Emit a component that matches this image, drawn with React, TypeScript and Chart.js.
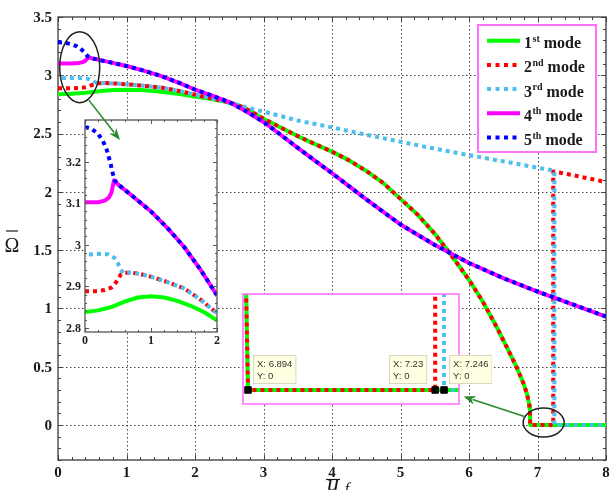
import React, { useEffect, useRef } from 'react';
import { Chart, registerables } from 'chart.js';

Chart.register(...registerables);

// ---------------- data ----------------
// mode 1, low branch (before veering)
const mode1LowX = [0, 0.2, 0.4, 0.6, 0.8, 1.0, 1.2, 1.4, 1.6, 1.8, 2.0, 2.2, 2.4];
const mode1LowY = [2.838, 2.842, 2.85, 2.863, 2.873, 2.876, 2.873, 2.865, 2.853, 2.838, 2.818, 2.8, 2.778];
// steep branch shared by modes 1 and 2
const steepX = [2.63, 2.8, 3.0, 3.25, 3.5, 3.75, 4.0, 4.25, 4.5, 4.75, 5.0, 5.25, 5.5, 5.75, 6.0, 6.2, 6.4, 6.55, 6.7, 6.8, 6.85, 6.88, 6.89, 6.894];
const steepY = [2.745, 2.695, 2.628, 2.552, 2.478, 2.41, 2.345, 2.27, 2.18, 2.075, 1.94, 1.805, 1.64, 1.45, 1.245, 1.06, 0.845, 0.67, 0.49, 0.35, 0.26, 0.17, 0.12, 0];
// mode 1 after divergence (zero)
const mode1ZeroX = [8];
const mode1ZeroY = [0];
// mode 2 start
const mode2StartX = [0, 0.15, 0.3, 0.4, 0.45, 0.5, 0.54];
const mode2StartY = [2.888, 2.888, 2.891, 2.897, 2.905, 2.917, 2.928];
// branch shared by modes 2 and 3
const veerX = [0.58, 0.7, 0.85, 1.0, 1.25, 1.5, 1.75, 2.0, 2.25, 2.45];
const veerY = [2.932, 2.933, 2.929, 2.923, 2.91, 2.895, 2.868, 2.835, 2.8, 2.775];
// mode 2 end (zero then jump)
const mode2EndX = [7.23, 7.23, 7.5, 7.75, 8];
const mode2EndY = [0, 2.175, 2.145, 2.115, 2.085];
// mode 3 start
const mode3StartX = [0, 0.2, 0.35, 0.45, 0.5, 0.54];
const mode3StartY = [2.976, 2.978, 2.977, 2.968, 2.955, 2.94];
// mode 3 end
const mode3EndX = [2.63, 2.8, 3.0, 3.5, 4.0, 4.5, 5.0, 5.5, 6.0, 6.5, 7.0, 7.246, 7.246, 8];
const mode3EndY = [2.745, 2.717, 2.688, 2.612, 2.553, 2.49, 2.43, 2.37, 2.315, 2.262, 2.207, 2.182, 0, 0];
// mode 4 start
const mode4StartX = [0, 0.2, 0.3, 0.36, 0.4, 0.42, 0.44];
const mode4StartY = [3.102, 3.102, 3.106, 3.113, 3.125, 3.14, 3.155];
// mode 5 start
const mode5StartX = [0, 0.1, 0.2, 0.27, 0.33, 0.38, 0.42];
const mode5StartY = [3.283, 3.279, 3.266, 3.25, 3.228, 3.2, 3.172];
// falling branch shared by modes 4 and 5
const fallX = [0.45, 0.5, 0.75, 1.0, 1.25, 1.5, 1.75, 2.0, 2.25, 2.5, 2.75, 3.0, 3.25, 3.5, 3.75, 4.0, 4.5, 5.0, 5.5, 6.0, 6.5, 7.0, 7.5, 8.0];
const fallY = [3.155, 3.145, 3.113, 3.08, 3.04, 2.995, 2.94, 2.878, 2.825, 2.77, 2.69, 2.6, 2.49, 2.378, 2.268, 2.16, 1.935, 1.72, 1.545, 1.39, 1.26, 1.145, 1.038, 0.93];

const xTickLabels = ['0', '1', '2', '3', '4', '5', '6', '7', '8'];
const yTickLabels = ['0', '0.5', '1', '1.5', '2', '2.5', '3', '3.5'];
const insetXTickLabels = ['0', '1', '2'];
const insetYTickLabels = ['2.8', '2.9', '3', '3.1', '3.2'];
const legendNumbers = ['1', '2', '3', '4', '5'];
const legendSuffixes = ['st', 'nd', 'rd', 'th', 'th'];
const legendWord = 'mode';
const datatipX = [6.894, 7.23, 7.246];
const datatipY = [0, 0, 0];

// ---------------- styles ----------------
const GREEN = '#00FF00';
const RED = '#FF0000';
const CYAN = '#4DBEEE';
const MAGENTA = '#FF00FF';
const BLUE = '#0000FF';
const ARROW = '#2A8A2A';
const SERIF = '"Liberation Serif", "Times New Roman", serif';

const SERIES = [
  { xs: [...mode1LowX, ...steepX, ...mode1ZeroX], ys: [...mode1LowY, ...steepY, ...mode1ZeroY], color: GREEN, dash: [] as number[], offset: 0 },
  { xs: [...mode2StartX, ...veerX, ...steepX, ...mode2EndX], ys: [...mode2StartY, ...veerY, ...steepY, ...mode2EndY], color: RED, dash: [4, 4], offset: 0 },
  { xs: [...mode3StartX, ...veerX, ...mode3EndX], ys: [...mode3StartY, ...veerY, ...mode3EndY], color: CYAN, dash: [4, 4], offset: 4 },
  { xs: [...mode4StartX, ...fallX], ys: [...mode4StartY, ...fallY], color: MAGENTA, dash: [] as number[], offset: 0 },
  { xs: [...mode5StartX, ...fallX], ys: [...mode5StartY, ...fallY], color: BLUE, dash: [4, 4], offset: 0 },
];

// annotations (main-chart data coordinates, radii in px)
const ELLIPSES = [
  { x: 0.317, y: 3.07, rx: 20, ry: 35.5 },
  { x: 7.09, y: 0.021, rx: 20.5, ry: 14.5 },
];
const ARROW1 = { x1: 0.45, y1: 2.787, x2: 0.905, y2: 2.444 };
const ARROW2 = { x1: 6.82, y1: 0.071, x2: 5.92, y2: 0.245 };

const INSET1 = { left: 45, top: 90, width: 185, height: 265 };
const INSET2 = { left: 236, top: 288, width: 256, height: 124 };

function makeLineDatasets() {
  return SERIES.map((s, i) => ({
    type: 'line',
    data: s.xs.map((x, k) => ({ x, y: s.ys[k] })),
    borderColor: s.color,
    backgroundColor: s.color,
    borderWidth: 4,
    borderDash: s.dash,
    borderDashOffset: s.offset,
    borderCapStyle: 'butt',
    borderJoinStyle: 'round',
    pointRadius: 0,
    pointHoverRadius: 0,
    fill: false,
    tension: 0,
    order: SERIES.length - i,
  }));
}

function range(min: number, max: number, step: number) {
  const out: number[] = [];
  const n = Math.round((max - min) / step);
  for (let i = 0; i <= n; i++) out.push(min + i * step);
  return out;
}

function drawTicks(ctx: any, a: any, xs: any, ys: any, xMaj: number[], xMin: number[], yMaj: number[], yMin: number[], majLen: number, minLen: number) {
  ctx.beginPath();
  const vx = (v: number, len: number) => {
    const p = Math.round(xs.getPixelForValue(v)) + 0.5;
    if (p < a.left - 0.5 || p > a.right + 0.5) return;
    ctx.moveTo(p, a.bottom); ctx.lineTo(p, a.bottom - len);
    ctx.moveTo(p, a.top); ctx.lineTo(p, a.top + len);
  };
  const vy = (v: number, len: number) => {
    const p = Math.round(ys.getPixelForValue(v)) + 0.5;
    if (p < a.top - 0.5 || p > a.bottom + 0.5) return;
    ctx.moveTo(a.left, p); ctx.lineTo(a.left + len, p);
    ctx.moveTo(a.right, p); ctx.lineTo(a.right - len, p);
  };
  xMin.forEach((v) => vx(v, minLen));
  xMaj.forEach((v) => vx(v, majLen));
  yMin.forEach((v) => vy(v, minLen));
  yMaj.forEach((v) => vy(v, majLen));
  ctx.stroke();
}

function drawArrow(ctx: any, x1: number, y1: number, x2: number, y2: number) {
  const ang = Math.atan2(y2 - y1, x2 - x1);
  const head = 12;
  const hw = 4.5;
  const c = Math.cos(ang);
  const s = Math.sin(ang);
  ctx.save();
  ctx.strokeStyle = ARROW;
  ctx.fillStyle = ARROW;
  ctx.lineWidth = 1.6;
  ctx.setLineDash([]);
  ctx.beginPath();
  ctx.moveTo(x1, y1);
  ctx.lineTo(x2 - head * 0.8 * c, y2 - head * 0.8 * s);
  ctx.stroke();
  ctx.beginPath();
  ctx.moveTo(x2, y2);
  ctx.lineTo(x2 - head * c + hw * s, y2 - head * s - hw * c);
  ctx.lineTo(x2 - head * 0.7 * c, y2 - head * 0.7 * s);
  ctx.lineTo(x2 - head * c - hw * s, y2 - head * s + hw * c);
  ctx.closePath();
  ctx.fill();
  ctx.restore();
}

const mainDecor = {
  id: 'mainDecor',
  beforeDatasetsDraw(chart: any) {
    const { ctx, chartArea: a, scales } = chart;
    const xs = scales.x;
    const ys = scales.y;
    ctx.save();
    // dotted grid
    ctx.strokeStyle = '#444';
    ctx.lineWidth = 1;
    ctx.setLineDash([1.5, 2.5]);
    ctx.beginPath();
    xTickLabels.map(Number).forEach((v) => {
      const p = Math.round(xs.getPixelForValue(v)) + 0.5;
      if (p <= a.left + 1 || p >= a.right - 1) return;
      ctx.moveTo(p, a.top); ctx.lineTo(p, a.bottom);
    });
    yTickLabels.map(Number).forEach((v) => {
      const p = Math.round(ys.getPixelForValue(v)) + 0.5;
      if (p <= a.top + 1 || p >= a.bottom - 1) return;
      ctx.moveTo(a.left, p); ctx.lineTo(a.right, p);
    });
    ctx.stroke();
    ctx.setLineDash([]);
    // ticks
    ctx.strokeStyle = '#444';
    ctx.lineWidth = 1;
    drawTicks(ctx, a, xs, ys,
      xTickLabels.map(Number), range(xs.min, xs.max, 0.2),
      yTickLabels.map(Number), range(ys.min, ys.max, 0.1), 5, 3);
    // box
    ctx.strokeStyle = '#3a3a3a';
    ctx.lineWidth = 1.3;
    ctx.strokeRect(a.left, a.top, a.right - a.left, a.bottom - a.top);
    ctx.restore();
  },
  afterDraw(chart: any) {
    const { ctx, chartArea: a, scales } = chart;
    const xs = scales.x;
    const ys = scales.y;
    ctx.save();
    // tick labels
    ctx.fillStyle = '#1a1a1a';
    ctx.font = `bold 15px ${SERIF}`;
    ctx.textAlign = 'right';
    ctx.textBaseline = 'middle';
    yTickLabels.forEach((t) => ctx.fillText(t, a.left - 6, ys.getPixelForValue(Number(t)) + 1));
    ctx.textAlign = 'center';
    xTickLabels.forEach((t) => ctx.fillText(t, xs.getPixelForValue(Number(t)), a.bottom + 13));
    // x title: u-bar with subscript f
    const cx = (a.left + a.right) / 2;
    ctx.textAlign = 'center';
    ctx.textBaseline = 'alphabetic';
    ctx.font = `italic 24px ${SERIF}`;
    ctx.fillText('u', cx + 1, a.bottom + 30.5);
    ctx.font = `italic 16px ${SERIF}`;
    ctx.fillText('f', cx + 15, a.bottom + 34);
    ctx.strokeStyle = '#1a1a1a';
    ctx.lineWidth = 1.2;
    ctx.beginPath();
    ctx.moveTo(cx - 6, a.bottom + 19.5);
    ctx.lineTo(cx + 8, a.bottom + 19.5);
    ctx.stroke();
    // y title: Omega-bar
    const cy = (a.top + a.bottom) / 2;
    ctx.font = `20px ${SERIF}`;
    ctx.fillText('Ω', 12, cy + 13);
    ctx.beginPath();
    ctx.moveTo(6, cy - 7.5);
    ctx.lineTo(18, cy - 7.5);
    ctx.stroke();

    // ellipses
    ctx.strokeStyle = '#222';
    ctx.lineWidth = 1.5;
    ELLIPSES.forEach((e) => {
      ctx.beginPath();
      ctx.ellipse(xs.getPixelForValue(e.x), ys.getPixelForValue(e.y), e.rx, e.ry, 0, 0, Math.PI * 2);
      ctx.stroke();
    });
    // arrow 2
    drawArrow(ctx, xs.getPixelForValue(ARROW2.x1), ys.getPixelForValue(ARROW2.y1),
      xs.getPixelForValue(ARROW2.x2), ys.getPixelForValue(ARROW2.y2));

    // legend
    const lw = 118;
    const lh = 127;
    const lx = a.right - 10 - lw;
    const ly = a.top + 8;
    ctx.fillStyle = '#fff';
    ctx.fillRect(lx, ly, lw, lh);
    ctx.strokeStyle = '#FF70FF';
    ctx.lineWidth = 2;
    ctx.strokeRect(lx, ly, lw, lh);
    SERIES.forEach((s, i) => {
      const ry = ly + 15.7 + i * 24.2;
      ctx.strokeStyle = s.color;
      ctx.lineWidth = 4;
      ctx.lineCap = 'butt';
      ctx.setLineDash(s.dash.length ? [4, 4.5] : []);
      ctx.beginPath();
      ctx.moveTo(lx + 9, ry);
      ctx.lineTo(lx + 42, ry);
      ctx.stroke();
      ctx.setLineDash([]);
      ctx.fillStyle = '#1a1a1a';
      ctx.textAlign = 'left';
      ctx.textBaseline = 'alphabetic';
      let tx = lx + 46;
      ctx.font = `bold 16px ${SERIF}`;
      ctx.fillText(legendNumbers[i], tx, ry + 7.5);
      tx += ctx.measureText(legendNumbers[i]).width + 0.5;
      ctx.font = `bold 10px ${SERIF}`;
      ctx.fillText(legendSuffixes[i], tx, ry + 1);
      tx += ctx.measureText(legendSuffixes[i]).width + 4;
      ctx.font = `bold 16px ${SERIF}`;
      ctx.fillText(legendWord, tx, ry + 7.5);
    });
    ctx.restore();
  },
};

function makeInset1Decor(getMain: () => any) {
  return {
    id: 'inset1Decor',
    beforeDatasetsDraw(chart: any) {
      const { ctx, chartArea: a } = chart;
      ctx.save();
      ctx.fillStyle = '#fff';
      ctx.fillRect(a.left, a.top, a.right - a.left, a.bottom - a.top);
      ctx.restore();
    },
    afterDatasetsDraw(chart: any) {
      const { ctx, chartArea: a, scales } = chart;
      ctx.save();
      ctx.strokeStyle = '#555';
      ctx.lineWidth = 1;
      drawTicks(ctx, a, scales.x, scales.y,
        insetXTickLabels.map(Number), range(0, 2, 0.2),
        insetYTickLabels.map(Number), range(2.8, 3.3, 0.02), 4, 2);
      ctx.strokeStyle = '#555';
      ctx.lineWidth = 1.3;
      ctx.strokeRect(a.left, a.top, a.right - a.left, a.bottom - a.top);
      ctx.restore();
    },
    afterDraw(chart: any) {
      const { ctx, chartArea: a, scales } = chart;
      ctx.save();
      ctx.fillStyle = '#222';
      ctx.font = `bold 12px ${SERIF}`;
      ctx.textAlign = 'right';
      ctx.textBaseline = 'middle';
      insetYTickLabels.forEach((t) => ctx.fillText(t, a.left - 4, scales.y.getPixelForValue(Number(t)) + 1));
      ctx.textAlign = 'center';
      insetXTickLabels.forEach((t) => ctx.fillText(t, scales.x.getPixelForValue(Number(t)), a.bottom + 9));
      const main = getMain();
      if (main) {
        const mx = main.scales.x;
        const my = main.scales.y;
        drawArrow(ctx,
          mx.getPixelForValue(ARROW1.x1) - INSET1.left, my.getPixelForValue(ARROW1.y1) - INSET1.top,
          mx.getPixelForValue(ARROW1.x2) - INSET1.left, my.getPixelForValue(ARROW1.y2) - INSET1.top);
      }
      ctx.restore();
    },
  };
}

const inset2Decor = {
  id: 'inset2Decor',
  beforeDatasetsDraw(chart: any) {
    const { ctx, chartArea: a } = chart;
    ctx.save();
    ctx.fillStyle = '#fff';
    ctx.fillRect(a.left, a.top, a.right - a.left, a.bottom - a.top);
    ctx.restore();
  },
  afterDraw(chart: any) {
    const { ctx, chartArea: a, scales } = chart;
    ctx.save();
    ctx.strokeStyle = '#FF70FF';
    ctx.lineWidth = 1.6;
    ctx.strokeRect(a.left, a.top, a.right - a.left, a.bottom - a.top);
    // data tips
    ctx.font = '9.5px "Liberation Sans", Arial, sans-serif';
    ctx.textBaseline = 'alphabetic';
    ctx.textAlign = 'left';
    datatipX.forEach((dx, i) => {
      const px = scales.x.getPixelForValue(dx);
      const py = scales.y.getPixelForValue(datatipY[i]);
      const l1 = `X: ${dx}`;
      const l2 = `Y: ${datatipY[i]}`;
      const w = Math.max(ctx.measureText(l1).width, ctx.measureText(l2).width) + 8;
      const h = 29;
      const left = i === 1 ? px - 8 - w : px + 5;
      const top = py - 35;
      ctx.fillStyle = '#FFFFE1';
      ctx.fillRect(left, top, w, h);
      ctx.strokeStyle = '#D8D8C0';
      ctx.lineWidth = 1;
      ctx.strokeRect(left + 0.5, top + 0.5, w - 1, h - 1);
      ctx.fillStyle = '#333';
      ctx.fillText(l1, left + 4, top + 12.5);
      ctx.fillText(l2, left + 4, top + 24.5);
    });
    ctx.restore();
  },
};

export default function App() {
  const mainRef = useRef<HTMLCanvasElement>(null);
  const in1Ref = useRef<HTMLCanvasElement>(null);
  const in2Ref = useRef<HTMLCanvasElement>(null);

  useEffect(() => {
    document.body.style.margin = '0';
    let mainChart: any = null;
    const main = new Chart(mainRef.current as HTMLCanvasElement, {
      type: 'line',
      data: { datasets: makeLineDatasets() as any },
      options: {
        animation: false,
        responsive: false,
        maintainAspectRatio: false,
        events: [],
        layout: { padding: { left: 58, right: 3, top: 17, bottom: 30 } },
        plugins: { legend: { display: false }, tooltip: { enabled: false }, title: { display: false } },
        scales: {
          x: { type: 'linear', display: false, min: 0, max: 8 },
          y: { type: 'linear', display: false, min: -0.3, max: 3.5 },
        },
      },
      plugins: [mainDecor as any],
    });
    mainChart = main;

    const in1 = new Chart(in1Ref.current as HTMLCanvasElement, {
      type: 'line',
      data: { datasets: makeLineDatasets() as any },
      options: {
        animation: false,
        responsive: false,
        maintainAspectRatio: false,
        events: [],
        layout: { padding: { left: 40, right: 13, top: 30, bottom: 23 } },
        plugins: { legend: { display: false }, tooltip: { enabled: false } },
        scales: {
          x: { type: 'linear', display: false, min: 0, max: 2 },
          y: { type: 'linear', display: false, min: 2.79, max: 3.3 },
        },
      },
      plugins: [makeInset1Decor(() => mainChart) as any],
    });

    const in2 = new Chart(in2Ref.current as HTMLCanvasElement, {
      type: 'line',
      data: {
        datasets: [
          ...(makeLineDatasets() as any),
          {
            type: 'line',
            data: datatipX.map((x, k) => ({ x, y: datatipY[k] })),
            showLine: false,
            pointStyle: 'rect',
            pointRadius: 4.6,
            pointBackgroundColor: '#000',
            pointBorderColor: '#000',
            pointBorderWidth: 1,
            order: 0,
          },
        ],
      },
      options: {
        animation: false,
        responsive: false,
        maintainAspectRatio: false,
        events: [],
        layout: { padding: { left: 7, right: 33, top: 6, bottom: 8 } },
        plugins: { legend: { display: false }, tooltip: { enabled: false } },
        scales: {
          x: { type: 'linear', display: false, min: 6.885, max: 7.2728 },
          y: { type: 'linear', display: false, min: -0.0146, max: 0.1 },
        },
      },
      plugins: [inset2Decor as any],
    });
    in1.draw();

    return () => {
      main.destroy();
      in1.destroy();
      in2.destroy();
    };
  }, []);

  return (
    <div style={{ position: 'fixed', left: 0, top: 0, width: 609, height: 490, background: '#fff', overflow: 'hidden' }}>
      <canvas ref={mainRef} width={609} height={490} style={{ position: 'absolute', left: 0, top: 0 }} />
      <canvas ref={in1Ref} width={INSET1.width} height={INSET1.height}
        style={{ position: 'absolute', left: INSET1.left, top: INSET1.top }} />
      <canvas ref={in2Ref} width={INSET2.width} height={INSET2.height}
        style={{ position: 'absolute', left: INSET2.left, top: INSET2.top }} />
    </div>
  );
}
